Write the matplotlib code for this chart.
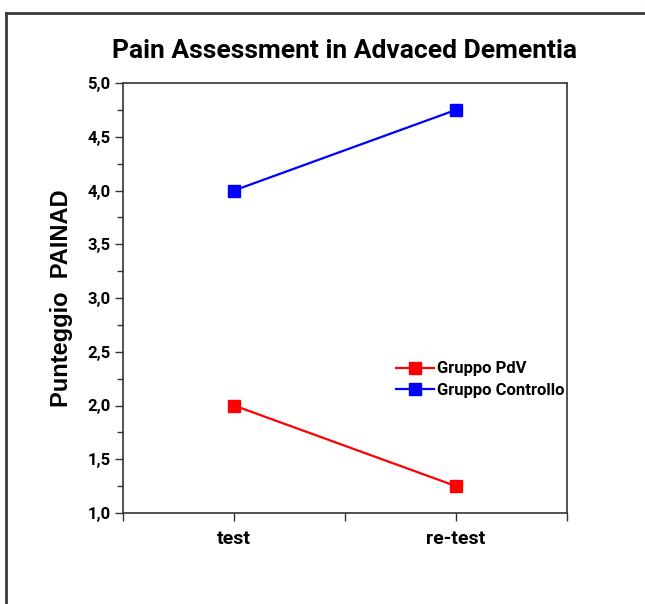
import matplotlib.pyplot as plt
from matplotlib.lines import Line2D
from matplotlib.ticker import MultipleLocator, FixedLocator, FixedFormatter

# data
sessions = ["test", "re-test"]
pdv = [2.0, 1.25]
controllo = [4.0, 4.75]

plt.rcParams['font.family'] = ["Roboto", "DejaVu Sans"]

fig = plt.figure(figsize=(6.45, 6.04), dpi=100)
ax = fig.add_axes([123 / 645, 1 - 513 / 604, 444 / 645, 430 / 604])

x = [1, 2]
ax.plot(x, pdv, color="red", lw=1.6, marker="s", markersize=8, label="Gruppo PdV")
ax.plot(x, controllo, color="blue", lw=1.6, marker="s", markersize=8, label="Gruppo Controllo")

ax.set_xlim(0.5, 2.5)
ax.set_ylim(1.0, 5.0)
ax.xaxis.set_major_locator(FixedLocator([0.5, 1, 1.5, 2, 2.5]))
ax.xaxis.set_major_formatter(FixedFormatter(["", sessions[0], "", sessions[1], ""]))
ax.yaxis.set_major_locator(MultipleLocator(0.5))
ax.yaxis.set_minor_locator(MultipleLocator(0.25))
ax.yaxis.set_major_formatter(plt.FuncFormatter(lambda v, p: f"{v:.1f}".replace(".", ",")))

for s in ax.spines.values():
    s.set_color("#333333")
    s.set_linewidth(1.2)
ax.tick_params(axis="both", which="major", direction="out", length=6, width=1, color="#333333")
ax.tick_params(axis="y", which="minor", direction="out", length=4, width=1, color="#333333")
ax.tick_params(axis="y", labelsize=12, pad=3)
ax.tick_params(axis="x", labelsize=14, pad=6)
for lab in ax.get_xticklabels() + ax.get_yticklabels():
    lab.set_fontweight("bold")

ax.set_ylabel("Punteggio  PAINAD", fontsize=17, fontweight="bold",
              family=["Liberation Sans", "DejaVu Sans"], labelpad=10)
ax.set_title("Pain Assessment in Advaced Dementia", fontsize=19, fontweight="bold", pad=18)

ax.legend(loc="center left", bbox_to_anchor=(0.58, 0.31), frameon=False,
          handlelength=2.3, handletextpad=0.2, labelspacing=0.4, prop={"weight": "bold", "size": 12})

# outer frame (top and left edges only)
fig.add_artist(Line2D([6 / 645, 1], [1 - 13 / 604, 1 - 13 / 604], color="#3a3a35", lw=2, transform=fig.transFigure))
fig.add_artist(Line2D([6 / 645, 6 / 645], [0, 1 - 13 / 604], color="#3a3a35", lw=2, transform=fig.transFigure))

fig.savefig("out.png", dpi=100)
